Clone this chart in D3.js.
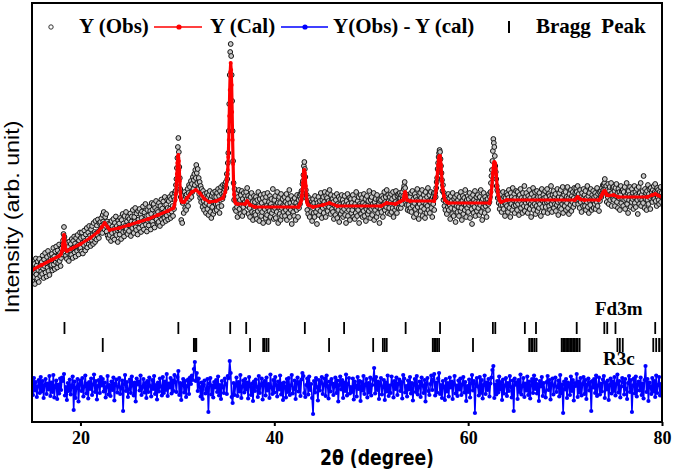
<!DOCTYPE html>
<html><head><meta charset="utf-8">
<script src="https://cdn.jsdelivr.net/npm/d3@7"></script>
<style>body{margin:0;background:#fff}svg{display:block}</style>
</head><body><svg id="c" width="675" height="470"></svg>
<script>
// ---------- DATA ----------
const xTicks = [20, 40, 60, 80];
const legendLabels = ["Y (Obs)", "Y (Cal)", "Y(Obs) - Y (cal)", "Bragg  Peak"];
const phaseLabels = ["Fd3m", "R3c"];
const xLabel = "2\u03b8 (degree)";
const yLabel = "Intensity (arb. unit)";

const calcTheta = [15,16,17,17.8,18,18.1,18.2,18.25,18.3,18.35,18.4,18.5,18.6,19,20,21,21.8,22.2,22.5,22.8,23,24,25,26,27,28,29,29.6,29.7,29.8,29.85,29.9,29.95,30,30.05,30.1,30.15,30.2,30.25,30.3,30.35,30.4,30.5,30.7,31,31.5,31.9,32.3,32.8,33.3,34,34.7,34.95,35.05,35.1,35.15,35.2,35.25,35.3,35.35,35.4,35.45,35.5,35.55,35.6,35.65,35.7,35.75,35.8,35.85,35.9,36,36.2,37,37.2,37.5,38,42.5,42.6,42.7,42.8,42.85,42.9,42.95,43,43.05,43.1,43.15,43.2,43.25,43.3,43.35,43.4,43.5,44,45,45.7,46.5,51,51.6,52.5,53,53.3,53.4,53.45,53.5,53.55,53.6,53.7,54,56.5,56.6,56.7,56.75,56.8,56.85,56.9,56.95,57,57.05,57.1,57.15,57.2,57.25,57.3,57.35,57.4,57.5,57.6,57.8,58,62.2,62.3,62.4,62.45,62.5,62.55,62.6,62.65,62.7,62.75,62.8,62.85,62.9,63,63.05,63.1,63.2,63.3,63.4,64,71,71.2,71.3,71.4,71.6,72,73.5,73.7,73.8,73.9,74,74.1,74.2,74.3,74.5,75,75.5,78.5,79,79.3,79.6,80];
const calcIntensity = [304,314,324,332,336,342,356,366,374,366,354,344,342,346,356,368,380,390,398,390,384,388,394,400,406,414,422,428,434,444,456,474,496,518,530,534,522,504,482,460,448,442,440,440,448,460,464,458,446,440,442,448,460,474,484,494,504,530,564,612,664,700,718,704,674,620,564,516,474,455,444,438,436,436,442,434,430,430,434,438,444,452,464,478,494,502,504,498,488,472,454,444,438,434,430,434,438,432,432,438,436,441,444,452,458,460,456,450,444,442,442,450,464,476,490,502,514,524,530,532,532,524,514,498,482,470,464,452,444,440,438,438,446,460,472,486,498,508,516,520,518,516,506,494,470,462,454,446,442,440,444,444,448,450,448,445,444,444,450,454,458,461,462,458,454,453,454,450,450,454,456,453,450];

// observed intensity, one row per degree (15..80)
const obsRows = [
[298,281,322,309,290,316,276,307,327,295,313,287,321,304,280,326,310,292,318,301],
[320,296,333,307,288,325,312,338,299,318,291,330,309,342,302,322,294,334,313,326],
[314,336,303,328,348,315,331,306,341,320,351,327,309,343,318,333,355,322,338,312],
[328,347,335,355,363,376,390,370,346,360,333,352,326,358,338,350,322,361,343,335],
[356,334,366,347,328,362,349,371,339,357,331,368,351,342,374,354,335,363,346,379],
[348,368,341,379,358,337,370,354,383,362,343,375,357,388,349,367,379,356,392,363],
[373,352,385,364,392,374,356,398,369,380,360,402,377,365,393,374,405,381,368,398],
[380,400,386,408,393,378,414,401,420,397,385,410,392,416,381,401,373,396,368,392],
[374,396,385,362,402,378,391,369,406,386,365,398,380,411,374,392,384,360,403,387],
[397,375,408,384,366,404,390,416,380,397,371,412,392,382,420,386,401,376,410,394],
[382,406,393,417,372,401,411,388,424,396,378,410,400,428,390,384,417,398,375,422],
[405,388,426,397,416,380,408,421,392,431,402,385,419,404,436,395,412,381,424,402],
[413,393,430,404,422,385,416,438,401,425,394,436,410,389,428,414,442,405,424,398],
[420,400,438,412,392,432,416,445,405,427,398,441,419,408,450,422,402,435,413,444],
[428,405,442,418,450,427,408,446,421,456,432,412,450,426,444,458,462,474,486,508],
[528,550,568,540,510,488,466,450,404,446,398,438,452,418,444,460,428,452,424,455],
[442,466,432,458,474,446,470,455,482,450,476,460,490,466,484,496,474,504,488,514],
[498,478,506,466,488,456,480,448,472,440,466,450,430,462,442,424,456,434,450,418],
[438,458,426,450,414,454,434,462,420,446,408,452,430,458,416,440,450,422,461,436],
[450,424,458,436,466,430,452,418,462,444,470,432,456,446,474,452,460,466,474,470],
[480,468,496,486,518,538,582,636,694,740,756,732,694,642,582,522,478,444,466,426],
[448,422,456,430,410,450,438,464,426,444,416,454,434,462,412,446,430,458,420,440],
[452,436,460,446,468,432,452,416,446,428,410,450,436,458,420,440,404,432,452,418],
[440,414,450,430,406,444,422,460,432,402,446,426,454,412,438,420,448,398,430,456],
[426,442,408,450,432,414,458,428,400,440,422,452,410,436,446,418,430,466,424,406],
[444,428,452,408,434,420,460,438,398,430,450,416,438,404,456,428,412,446,434,420],
[432,450,412,440,424,456,404,436,446,418,428,464,410,438,424,452,396,432,444,420],
[440,412,448,428,404,438,424,454,432,410,444,428,452,436,456,446,462,458,476,482],
[494,512,520,506,490,464,448,454,424,442,416,436,448,410,432,444,420,440,402,436],
[446,418,438,410,452,430,420,444,396,438,426,450,414,434,442,422,458,432,408,444],
[428,450,418,440,460,432,410,452,436,448,422,458,442,430,464,438,416,454,442,426],
[446,420,440,406,452,432,414,444,428,456,408,436,424,450,400,434,446,416,430,454],
[422,444,410,438,426,452,414,434,398,442,430,456,412,436,424,448,404,432,446,418],
[438,424,454,410,432,446,406,436,418,460,430,412,442,424,450,398,436,432,454,416],
[430,448,410,438,422,456,412,434,446,402,426,452,432,416,442,422,462,430,408,444],
[426,450,414,436,430,458,404,440,424,446,432,410,454,430,418,444,436,398,442,426],
[444,420,452,432,410,448,436,460,424,440,450,430,464,438,418,454,442,428,450,416],
[440,456,420,446,428,460,410,436,450,424,440,462,430,418,452,438,456,428,448,458],
[448,428,454,436,460,446,452,466,472,480,468,456,444,434,454,424,450,434,446,422],
[450,428,458,420,440,462,432,446,410,438,456,426,450,416,444,466,430,442,406,454],
[436,458,422,448,430,464,412,440,454,426,446,408,460,436,418,450,432,468,424,442],
[454,418,440,460,428,446,410,450,436,458,424,448,458,450,468,480,488,506,518,530],
[538,544,540,526,512,498,484,462,474,444,458,432,448,424,440,452,416,444,430,456],
[424,448,434,406,452,428,442,416,458,436,412,446,426,450,400,440,432,454,420,444],
[430,412,450,438,422,460,428,404,442,452,416,436,448,424,464,434,410,444,428,452],
[420,446,434,458,408,438,450,426,396,436,454,418,444,430,462,412,440,450,422,436],
[454,428,440,414,450,434,464,420,442,404,446,430,458,436,418,450,432,444,410,438],
[446,424,436,456,440,450,460,478,492,504,522,542,566,558,550,532,512,500,486,472],
[464,448,460,438,450,426,448,434,456,420,446,434,460,426,450,438,412,448,436,458],
[432,454,420,448,464,428,442,410,458,436,450,424,468,444,432,456,418,448,434,462],
[440,424,460,436,450,414,454,442,466,428,448,436,418,458,444,432,472,422,450,438],
[458,430,444,418,452,440,464,426,448,436,410,456,442,432,468,424,450,436,460,416],
[446,432,462,422,450,440,428,458,436,450,412,444,466,430,442,454,420,448,438,462],
[430,450,440,466,418,442,456,432,452,424,446,472,436,420,454,442,462,428,450,436],
[456,422,444,434,466,440,414,450,458,430,442,464,426,448,436,470,418,442,454,432],
[442,460,424,450,438,470,428,448,416,456,444,434,464,422,452,440,460,430,448,468],
[436,458,444,468,460,448,472,436,456,444,428,464,440,450,420,458,446,432,466,442],
[454,432,462,424,448,440,472,430,452,418,458,442,434,466,446,424,454,444,462,428],
[450,436,458,426,452,440,468,432,456,446,422,460,442,452,462,450,468,458,474,464],
[474,478,486,466,458,472,440,464,450,476,436,462,470,444,456,478,432,458,468,446],
[470,444,462,432,468,452,476,440,458,428,466,448,460,424,454,472,438,462,446,464],
[432,460,444,470,426,452,446,478,436,458,418,462,444,454,470,430,450,440,466,446],
[458,426,450,472,438,460,430,454,466,444,416,452,470,436,458,446,478,432,454,444],
[462,438,492,450,428,466,446,458,424,462,444,474,436,456,466,448,426,468,452,460],
[440,464,452,472,446,460,476,442,458,432,468,450,464,444,436,460,452,470,440,458],
[451]
];

// difference Y(obs)-Y(cal), one row per degree (15..80)
const diffRows = [
[8,-14,20,-5,12,-18,3,16,-10,22],
[-7,14,-20,6,18,-12,9,-3,24,-16],
[11,-8,26,-19,4,15,-22,7,-11,19],
[-4,21,14,28,-15,2,-24,10,-6,17],
[-13,5,23,-44,13,-20,1,18,-27,8],
[15,-6,20,-17,3,25,-11,9,-21,12],
[-2,19,-14,7,27,-8,14,-23,4,16],
[-10,22,5,18,-7,11,-19,2,24,-13],
[6,-16,13,-4,21,-25,9,17,-9,3],
[20,-12,1,15,-46,8,26,-6,12,-18],
[-3,17,-10,23,5,-15,11,-27,19,7],
[13,-5,25,-14,2,18,-9,10,-20,14],
[-8,21,4,-17,16,-2,24,-12,6,-23],
[11,-7,19,3,-15,22,-10,13,-4,28],
[-16,9,1,20,-11,15,-6,26,12,-8],
[22,34,-14,10,-24,6,18,-9,14,-18],
[4,17,-12,21,8,25,16,38,52,14],
[30,-6,19,2,-17,11,-22,7,15,-11],
[-4,18,-48,9,20,-13,5,-19,12,1],
[16,-8,23,-15,6,-22,14,3,-10,19],
[8,-12,24,20,54,30,-18,-30,10,-14],
[5,21,-16,12,-7,26,-20,3,15,-9],
[18,-3,11,-21,22,4,-14,9,-26,13],
[-6,17,2,-18,24,-10,7,19,-23,10],
[14,-15,21,-5,8,-20,27,1,-12,16],
[-9,22,6,-17,13,-3,25,-13,9,-24],
[11,3,-19,18,-8,20,-14,5,26,-11],
[-2,15,-22,10,21,-7,12,-16,17,30],
[24,-10,-18,6,19,-13,23,-4,8,-20],
[-52,14,-9,20,2,-25,16,-5,11,22],
[-12,7,19,-16,25,4,-21,13,-7,18],
[9,-14,3,21,-10,15,-27,6,23,-3],
[16,-20,11,-6,27,-15,8,20,-11,2],
[-8,19,-23,13,5,-17,22,-2,14,-26],
[12,-5,24,-12,7,18,-19,10,-9,21],
[-15,6,17,40,-11,22,-4,13,-22,8],
[20,-13,3,16,-24,11,-7,25,-16,5],
[-10,23,8,-19,14,-2,21,-14,9,17],
[-6,12,-21,26,19,-9,4,-17,15,-3],
[22,-11,10,-25,7,18,-8,24,-13,2],
[13,-18,21,5,-10,16,-27,9,20,-6],
[-14,8,25,-4,17,28,-15,11,-9,19],
[30,-12,6,-20,14,3,-24,18,-7,10],
[-17,21,1,13,-22,9,24,-11,5,-16],
[15,-3,19,-14,7,22,-9,12,-26,4],
[-8,17,-19,10,26,-5,14,-50,8,20],
[3,-15,22,-10,16,-21,6,25,-12,11],
[-4,18,-17,9,21,36,44,-20,7,-13],
[14,-9,23,-3,12,-24,17,-11,5,20],
[-16,10,-6,24,2,-19,15,-46,19,7],
[11,-22,16,-8,27,-13,4,20,-18,9],
[-5,23,-14,13,-21,6,18,-10,25,-2],
[17,-11,8,-26,14,3,22,-16,10,-7],
[-19,12,24,-4,16,-23,9,19,-13,5],
[21,-8,2,15,-17,26,-11,7,-50,13],
[-3,18,-20,11,6,-14,23,-6,16,-25],
[10,4,28,-18,13,-9,20,-15,8,22],
[-12,16,-22,7,19,-5,12,-46,14,1],
[18,-10,25,-16,5,21,-13,9,-7,17],
[24,-20,11,-3,15,-24,6,19,-11,13],
[-6,22,-15,8,27,-9,14,-19,3,20],
[12,-13,18,-2,-22,10,24,-8,16,-48],
[5,19,-11,23,-17,7,13,-5,21,-14],
[9,-21,16,44,-8,18,-26,11,3,-12],
[20,-7,14,-18,25,-10,6,22,-15,8],
[-4]
];

const braggFd3m = [18.35,30.1,35.45,37.1,43.15,47.2,53.55,57.1,62.55,62.8,65.85,67.0,71.2,74.05,74.35,75.2,79.3];
const braggR3c = [22.3,31.7,31.82,31.95,37.5,38.85,39.0,39.2,39.4,45.65,50.2,51.2,51.4,51.6,56.35,56.5,56.65,56.8,57.0,60.5,66.3,66.5,66.65,66.85,67.05,69.65,69.8,69.95,70.1,70.25,70.4,70.55,70.7,70.85,71.0,71.15,71.3,71.5,75.4,75.65,75.95,79.1,79.4,79.7,79.95];

// ---------- DRAWING ----------
const L = 32, R = 662, T = 3, B = 422;
const svg = d3.select("#c");
const x = d3.scaleLinear().domain([15, 80]).range([L, R]);
const y = d3.scaleLinear().domain([0, 838]).range([B, T]);
const diffOffset = 68;
const serif = "'Liberation Serif','Times New Roman',Times,serif";

svg.append("defs").append("clipPath").attr("id", "plotclip")
  .append("rect").attr("x", L).attr("y", T).attr("width", R - L).attr("height", B - T);

const obs = [];
obsRows.forEach((row, r) => row.forEach((v, j) => obs.push([15 + r + j / row.length, v])));
const diff = [];
diffRows.forEach((row, r) => row.forEach((v, j) => diff.push([15 + r + j / row.length, v])));
const calc = calcTheta.map((t, i) => [t, calcIntensity[i]]);

const plot = svg.append("g").attr("clip-path", "url(#plotclip)");

// observed
plot.append("g").selectAll("circle").data(obs).join("circle")
  .attr("cx", d => x(d[0])).attr("cy", d => y(d[1])).attr("r", 2.4)
  .attr("fill", "#c8c8c8").attr("stroke", "#141414").attr("stroke-width", 1);

// calculated
plot.append("path").datum(calc)
  .attr("d", d3.line().x(d => x(d[0])).y(d => y(d[1])))
  .attr("fill", "none").attr("stroke", "#ff0000").attr("stroke-width", 3.2).attr("stroke-linejoin", "round");
plot.append("g").selectAll("circle").data(calc).join("circle")
  .attr("cx", d => x(d[0])).attr("cy", d => y(d[1])).attr("r", 2).attr("fill", "#ff0000");

// difference
plot.append("path").datum(diff)
  .attr("d", d3.line().x(d => x(d[0])).y(d => y(diffOffset + d[1])))
  .attr("fill", "none").attr("stroke", "#0000ff").attr("stroke-width", 1.6);
plot.append("g").selectAll("circle").data(diff).join("circle")
  .attr("cx", d => x(d[0])).attr("cy", d => y(diffOffset + d[1])).attr("r", 2.1).attr("fill", "#0000ff");

// Bragg ticks
const fdRow = [176, 200], rcRow = [140, 168];
plot.append("g").selectAll("line").data(braggFd3m).join("line")
  .attr("x1", d => x(d)).attr("x2", d => x(d)).attr("y1", y(fdRow[0])).attr("y2", y(fdRow[1]))
  .attr("stroke", "#000").attr("stroke-width", 1.8);
plot.append("g").selectAll("line").data(braggR3c).join("line")
  .attr("x1", d => x(d)).attr("x2", d => x(d)).attr("y1", y(rcRow[0])).attr("y2", y(rcRow[1]))
  .attr("stroke", "#000").attr("stroke-width", 1.8);

// phase labels
svg.append("text").text(phaseLabels[0]).attr("x", 595).attr("y", 315)
  .attr("font-family", serif).attr("font-weight", "bold").attr("font-size", 19).attr("fill", "#000");
svg.append("text").text(phaseLabels[1]).attr("x", 603).attr("y", 365)
  .attr("font-family", serif).attr("font-weight", "bold").attr("font-size", 19).attr("fill", "#000");

// frame
svg.append("rect").attr("x", L).attr("y", T).attr("width", R - L).attr("height", B - T)
  .attr("fill", "none").attr("stroke", "#000").attr("stroke-width", 2);

// x axis
const ax = svg.append("g").attr("transform", `translate(0,${B})`)
  .call(d3.axisBottom(x).tickValues(xTicks).tickSize(4).tickPadding(5).tickFormat(d3.format("d")));
ax.select(".domain").remove();
ax.selectAll("line").attr("stroke", "#000").attr("stroke-width", 2);
ax.selectAll("text").attr("font-family", serif).attr("font-weight", "bold").attr("font-size", 18).attr("fill", "#000");

// axis labels
svg.append("text").text(xLabel).attr("x", 377).attr("y", 465).attr("text-anchor", "middle")
  .attr("textLength", 114).attr("lengthAdjust", "spacingAndGlyphs")
  .attr("font-family", "'Liberation Sans Narrow','Arial Narrow','DejaVu Sans Condensed','Liberation Sans',sans-serif")
  .attr("font-weight", "bold").attr("font-size", 22).attr("fill", "#000");
svg.append("text").text(yLabel).attr("transform", "translate(19,217) rotate(-90)").attr("text-anchor", "middle")
  .attr("textLength", 193).attr("lengthAdjust", "spacingAndGlyphs")
  .attr("font-family", "'Liberation Sans',Arial,sans-serif").attr("font-size", 20.5).attr("fill", "#000");

// legend
const lg = svg.append("g");
const ly = 27, lb = 33;
lg.append("circle").attr("cx", 51).attr("cy", ly).attr("r", 2.2).attr("fill", "#fff").attr("stroke", "#333").attr("stroke-width", 1);
const tx = [79, 210, 333, 536];
legendLabels.forEach((s, i) => lg.append("text").text(s).attr("x", tx[i]).attr("y", lb)
  .attr("xml:space", "preserve").style("white-space", "pre")
  .attr("font-family", serif).attr("font-weight", "bold").attr("font-size", 21).attr("fill", "#000"));
lg.append("line").attr("x1", 154).attr("x2", 202).attr("y1", ly).attr("y2", ly).attr("stroke", "#ff0000").attr("stroke-width", 1.4);
lg.append("circle").attr("cx", 179).attr("cy", ly).attr("r", 2.6).attr("fill", "#ff0000");
lg.append("line").attr("x1", 281).attr("x2", 328).attr("y1", ly).attr("y2", ly).attr("stroke", "#0000ff").attr("stroke-width", 1.4);
lg.append("circle").attr("cx", 305).attr("cy", ly).attr("r", 2.6).attr("fill", "#0000ff");
lg.append("line").attr("x1", 509).attr("x2", 509).attr("y1", 21).attr("y2", 33).attr("stroke", "#000").attr("stroke-width", 2);
</script>
</body></html>
